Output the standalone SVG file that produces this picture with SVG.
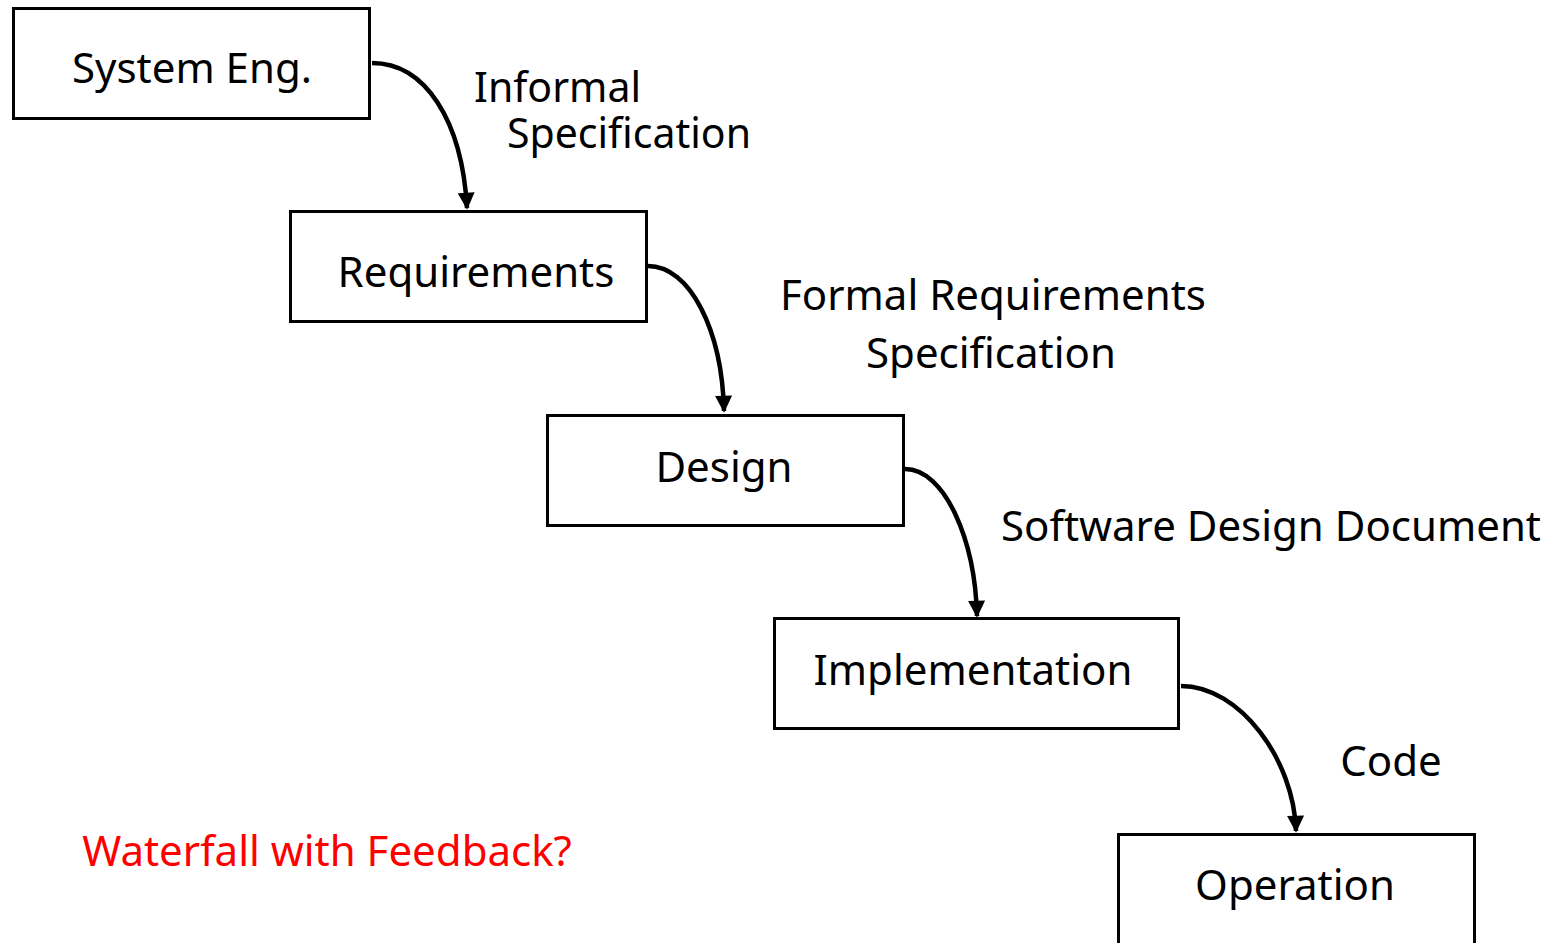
<svg xmlns="http://www.w3.org/2000/svg" width="1562" height="943" viewBox="0 0 1562 943">
<defs>
<style>
.box{fill:#fff;stroke:#000;stroke-width:3}
.t{font-family:"Noto Sans","DejaVu Sans",sans-serif;font-size:42px;fill:#000}
.c{stroke:#000;stroke-width:4.5;fill:none;marker-end:url(#ah)}
</style>
<marker id="ah" viewBox="0 0 10 10" refX="9" refY="5" markerWidth="18" markerHeight="17" orient="auto" markerUnits="userSpaceOnUse">
<path d="M0,0 L10,5 L0,10 z" fill="#000"/>
</marker>
</defs>
<rect width="1562" height="943" fill="#fff"/>
<g id="connectors">
<path class="c" d="M372,63 C425,63 462,120 467,208"/>
<path class="c" d="M648,266 C690,266 722,330 724,411"/>
<path class="c" d="M905,469 C945,469 975,540 977,616"/>
<path class="c" d="M1181,686 C1240,686 1294,760 1296,831"/>
</g>
<g id="n-system">
<rect class="box" x="13.5" y="8.5" width="356" height="110"/>
<text class="t" x="192" y="83" text-anchor="middle">System Eng.</text>
</g>
<g id="n-req">
<rect class="box" x="290.5" y="211.5" width="356" height="110"/>
<text class="t" x="476" y="287" text-anchor="middle">Requirements</text>
</g>
<g id="n-design">
<rect class="box" x="547.5" y="415.5" width="356" height="110"/>
<text class="t" x="724" y="482" text-anchor="middle">Design</text>
</g>
<g id="n-impl">
<rect class="box" x="774.5" y="618.5" width="404" height="110"/>
<text class="t" x="973" y="685" text-anchor="middle">Implementation</text>
</g>
<g id="n-op">
<rect class="box" x="1118.5" y="834.5" width="356" height="130"/>
<text class="t" x="1295" y="900" text-anchor="middle">Operation</text>
</g>
<g id="labels">
<text class="t" x="474" y="102" style="font-size:41px">Informal</text>
<text class="t" x="507" y="148" style="font-size:41px">Specification</text>
<text class="t" x="993" y="310" text-anchor="middle">Formal Requirements</text>
<text class="t" x="991" y="368" text-anchor="middle">Specification</text>
<text class="t" x="1271" y="541" text-anchor="middle">Software Design Document</text>
<text class="t" x="1391" y="776" text-anchor="middle">Code</text>
<text class="t" x="327" y="866" text-anchor="middle" style="fill:#f00">Waterfall with Feedback?</text>
</g>
</svg>
